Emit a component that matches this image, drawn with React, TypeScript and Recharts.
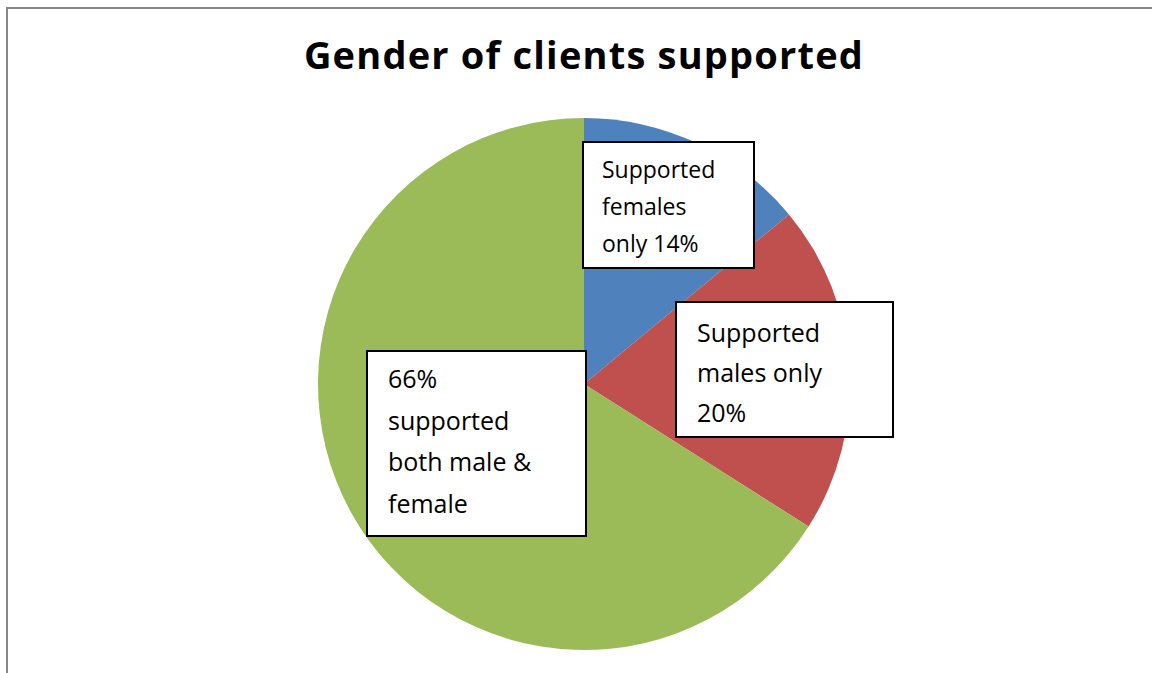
import React from "react";
import { PieChart, Pie, Cell } from "recharts";

const categories = ["Supported females only", "Supported males only", "Supported both male & female"];
const values = [14, 20, 66];
const colors = ["#4F81BD", "#C0504D", "#9BBB59"];
const labelLines = [
  ["Supported", "females", "only 14%"],
  ["Supported", "males only", "20%"],
  ["66%", "supported", "both male &", "female"],
];
const title = "Gender of clients supported";

// label box layout relative to pie centre
const boxes = [
  { dx: -1, dy: -242, w: 171, h: 126, tx: 19, b0: 36, step: 37, fs: 23 },
  { dx: 92, dy: -82, w: 217, h: 135, tx: 21, b0: 40, step: 40, fs: 25 },
  { dx: -217, dy: -33, w: 219, h: 185, tx: 21, b0: 37, step: 41.5, fs: 25 },
];

const data = categories.map((c, i) => ({ name: c, value: values[i] }));

const renderLabel = (props: any) => {
  const { cx, cy, index } = props;
  const b = boxes[index];
  const x = cx + b.dx;
  const y = cy + b.dy;
  return (
    <g key={"lbl" + index}>
      <rect x={x} y={y} width={b.w} height={b.h} fill="#ffffff" stroke="#000000" strokeWidth={2} />
      <text fontFamily="'Open Sans', sans-serif" fontSize={b.fs} fill="#000000" textAnchor="start">
        {labelLines[index].map((t, i) => (
          <tspan key={i} x={x + b.tx} y={y + b.b0 + i * b.step}>
            {t}
          </tspan>
        ))}
      </text>
    </g>
  );
};

export default function App() {
  return (
    <div style={{ position: "absolute", left: 0, top: 0, width: 1152, height: 673, background: "#fff", overflow: "hidden" }}>
      <div
        style={{
          position: "absolute",
          left: 6,
          top: 7,
          width: 1200,
          height: 700,
          borderLeft: "2px solid #888888",
          borderTop: "2px solid #888888",
        }}
      />
      <div
        style={{
          position: "absolute",
          left: 0,
          top: 30,
          width: 1168,
          textAlign: "center",
          fontFamily: "'Open Sans', sans-serif",
          fontWeight: 700,
          fontSize: 38,
          letterSpacing: "1.2px",
          lineHeight: "48px",
          color: "#000",
        }}
      >
        {title}
      </div>
      <div style={{ position: "absolute", left: 0, top: 0 }}>
        <PieChart width={1152} height={673} margin={{ top: 0, right: 0, bottom: 0, left: 0 }}>
          <Pie
            data={data}
            dataKey="value"
            nameKey="name"
            cx={584}
            cy={384}
            outerRadius={266}
            startAngle={90}
            endAngle={-270}
            stroke="none"
            isAnimationActive={false}
            label={renderLabel}
            labelLine={false}
          >
            {data.map((d, i) => (
              <Cell key={d.name} fill={colors[i]} />
            ))}
          </Pie>
        </PieChart>
      </div>
    </div>
  );
}
